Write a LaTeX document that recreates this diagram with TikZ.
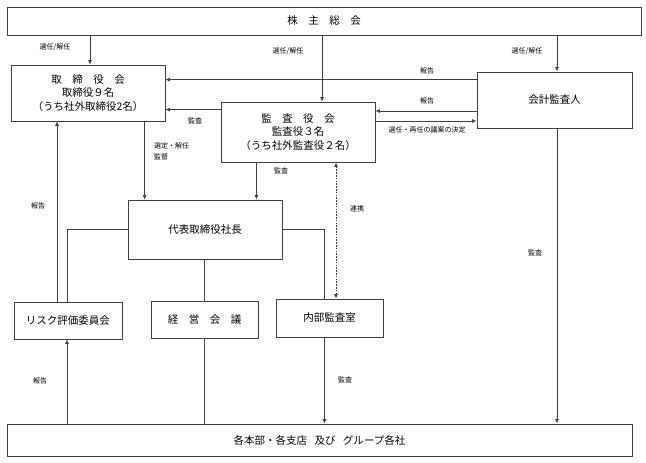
\documentclass[tikz,border=0pt]{standalone}
\usepackage{fontspec}
\setmainfont{Noto Sans CJK JP}
\usetikzlibrary{arrows.meta,positioning}

\tikzset{
  box/.style = {draw = black!75, line width = 0.8pt, shape = rectangle, inner sep = 0pt, align = center, font = \fontsize{10.5}{13.5}\selectfont},
  lbl/.style = {inner sep = 0pt, align = left, font = \fontsize{7}{11}\selectfont},
  wire/.style = {draw = black!75, line width = 0.8pt},
  arr/.style = {wire, -{Latex[length = 4.5pt, width = 4pt]}},
  twoway/.style = {wire, dash pattern = on 1.6pt off 1.2pt, {Latex[length = 4.5pt, width = 4pt]}-{Latex[length = 4.5pt, width = 4pt]}}
}

\begin{document}
\begin{tikzpicture}[x = 1pt, y = -1pt]
\useasboundingbox (0,0) rectangle (646,463);
\node[box, minimum width = 634, minimum height = 28] (0) at (324,21) {株\quad 主\quad 総\quad 会};
\node[box, minimum width = 154, minimum height = 56] (1) at (88,93) {取\quad 締\quad 役\quad 会\\取締役９名\\（うち社外取締役2名）};
\node[box, minimum width = 154, minimum height = 60] (2) at (298,132) {監\quad 査\quad 役\quad 会\\監査役３名\\（うち社外監査役２名）};
\node[box, minimum width = 155, minimum height = 56] (3) at (554.5,100) {会計監査人};
\node[box, minimum width = 154, minimum height = 59] (4) at (205,229.5) {代表取締役社長};
\node[box, minimum width = 108, minimum height = 37] (5) at (68,320.5) {リスク評価委員会};
\node[box, minimum width = 107, minimum height = 37] (6) at (204.5,319.5) {経\quad 営\quad 会\quad 議};
\node[box, minimum width = 107, minimum height = 38] (7) at (329.5,318) {内部監査室};
\node[box, minimum width = 625, minimum height = 32] (8) at (319.5,440) {各本部・各支店\hspace{0.7em}及び\hspace{0.7em}グループ各社};

\draw[arr] ([xshift = 2]1.north |- 0.south) -- ([xshift = 2]1.north);
\draw[arr] ([xshift = 24]2.north |- 0.south) -- ([xshift = 24]2.north);
\draw[arr] ([xshift = 2.5]3.north |- 0.south) -- ([xshift = 2.5]3.north);
\draw[arr] ([yshift = -8]3.north west) -- ([yshift = -8]3.north west -| 1.east);
\draw[arr] ([yshift = -11]3.west) -- ([yshift = -11]3.west -| 2.east);
\draw[arr] ([yshift = -21]3.west -| 2.east) -- ([yshift = -21]3.west);
\draw[arr] ([yshift = -8]2.north west) -- ([yshift = -8]2.north west -| 1.east);
\draw[arr] ([xshift = 17]4.north west |- 1.south) -- ([xshift = 17]4.north west);
\draw[arr] ([xshift = -26]4.north east |- 2.south) -- ([xshift = -26]4.north east);
\draw[twoway] ([xshift = 6.5]7.north |- 2.south) -- ([xshift = 6.5]7.north);
\draw[wire] (4.west) -| ([xshift = -1]5.north);
\draw[arr] ([xshift = -11]5.north) -- ([xshift = -11]5.north |- 1.south);
\draw[wire] (6.north |- 4.south) -- (6.north);
\draw[wire] (6.south) -- (6.south |- 8.north);
\draw[wire] (4.east) -| ([xshift = -5]7.north);
\draw[arr] ([xshift = -1]5.south |- 8.north) -- ([xshift = -1]5.south);
\draw[arr] ([xshift = -5]7.south) -- ([xshift = -5]7.south |- 8.north);
\draw[arr] ([xshift = 2.5]3.south) -- ([xshift = 2.5]3.south |- 8.north);

\node[lbl] (l1) at (55,47) {選任/解任};
\node[lbl] (l2) at (288,51) {選任/解任};
\node[lbl] (l3) at (527,51) {選任/解任};
\node[lbl] (l4) at (427,71) {報告};
\node[lbl] (l5) at (427,101) {報告};
\node[lbl] (l6) at (427,130) {選任・再任の議案の決定};
\node[lbl] (l7) at (195,121) {監査};
\node[lbl, anchor = west] (l8) at (154,151) {選定・解任\\監督};
\node[lbl] (l9) at (281,171) {監査};
\node[lbl] (l10) at (357,209) {連携};
\node[lbl] (l11) at (38,206) {報告};
\node[lbl] (l12) at (40,381) {報告};
\node[lbl] (l13) at (345,380) {監査};
\node[lbl] (l14) at (535,253) {監査};
\end{tikzpicture}
\end{document}
